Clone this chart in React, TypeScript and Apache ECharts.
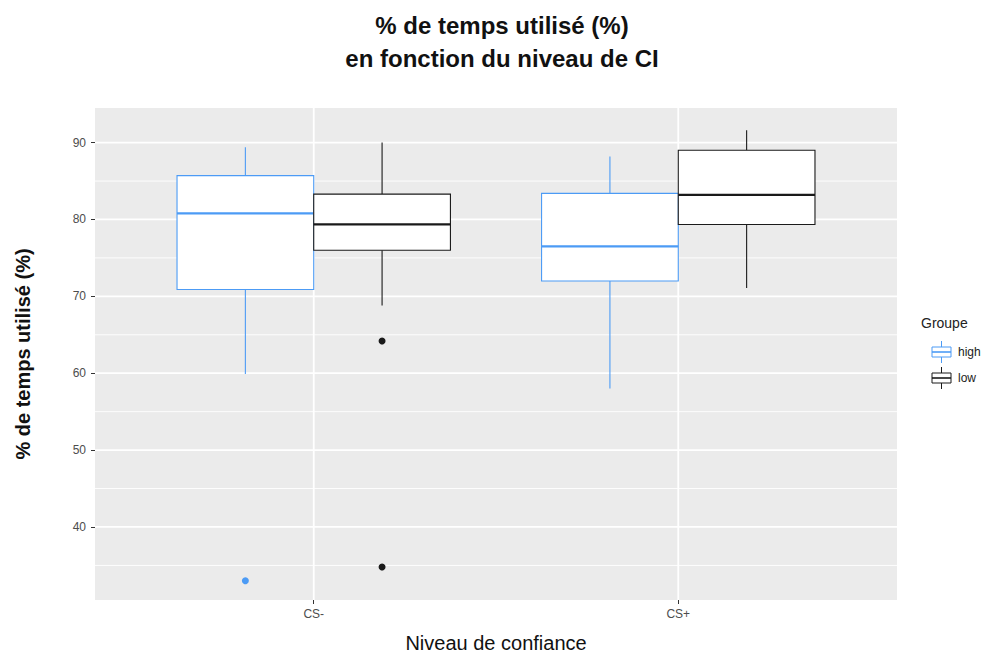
import React, { useEffect, useRef } from "react";
import * as echarts from "echarts";

const categories = ["CS-", "CS+"];
const groups = ["high", "low"];
const groupColors = ["#4C9BF5", "#1A1A1A"];
// [min, Q1, median, Q3, max] for each category
const highStats = [
  [59.9, 70.9, 80.8, 85.7, 89.4],
  [58.0, 72.0, 76.5, 83.4, 88.2],
];
const lowStats = [
  [68.8, 76.0, 79.35, 83.3, 90.0],
  [71.1, 79.35, 83.2, 89.0, 91.6],
];
// [category index, value]
const highOutliers = [[0, 33.0]];
const lowOutliers = [
  [0, 64.2],
  [0, 34.8],
];
const yTicks = [40, 50, 60, 70, 80, 90];
const yMinor = [35, 45, 55, 65, 75, 85];

const X_MIN = 0.4;
const X_MAX = 2.6;
const Y_MIN = 30.5;
const Y_MAX = 94.5;
const DODGE = 0.1875;
const HALF = 0.1875;

const FONT = "Liberation Sans, Arial, Helvetica, sans-serif";

function boxSeries(name: string, stats: number[][], offset: number, color: string) {
  return {
    name,
    type: "custom",
    z: 5,
    silent: true,
    data: stats.map((s, i) => [i + 1 + offset, ...s]),
    encode: { x: 0, y: [1, 2, 3, 4, 5] },
    renderItem: (params: any, api: any) => {
      const x = api.value(0);
      const mn = api.value(1);
      const q1 = api.value(2);
      const md = api.value(3);
      const q3 = api.value(4);
      const mx = api.value(5);
      const tl = api.coord([x - HALF, q3]);
      const br = api.coord([x + HALF, q1]);
      const cTop = api.coord([x, mx]);
      const cBot = api.coord([x, mn]);
      const mL = api.coord([x - HALF, md]);
      const mR = api.coord([x + HALF, md]);
      return {
        type: "group",
        children: [
          {
            type: "line",
            shape: { x1: cTop[0], y1: cTop[1], x2: cTop[0], y2: tl[1] },
            style: { stroke: color, lineWidth: 1.1 },
          },
          {
            type: "line",
            shape: { x1: cBot[0], y1: cBot[1], x2: cBot[0], y2: br[1] },
            style: { stroke: color, lineWidth: 1.1 },
          },
          {
            type: "rect",
            shape: { x: tl[0], y: tl[1], width: br[0] - tl[0], height: br[1] - tl[1] },
            style: { fill: "#FFFFFF", stroke: color, lineWidth: 1.1 },
          },
          {
            type: "line",
            shape: { x1: mL[0], y1: mL[1], x2: mR[0], y2: mR[1] },
            style: { stroke: color, lineWidth: 2.2 },
          },
        ],
      };
    },
  };
}

function outlierSeries(name: string, pts: number[][], offset: number, color: string) {
  return {
    name: name + "-outliers",
    type: "scatter",
    z: 6,
    silent: true,
    symbol: "circle",
    symbolSize: 7,
    itemStyle: { color, opacity: 1 },
    data: pts.map((p) => [p[0] + 1 + offset, p[1]]),
  };
}

const gridSeries = {
  type: "custom",
  z: 1,
  silent: true,
  data: [
    ...yMinor.map((v) => [0, v, 0]),
    ...yTicks.map((v) => [0, v, 1]),
    ...categories.map((_, i) => [1, i + 1, 1]),
  ],
  encode: { x: -1, y: -1 },
  renderItem: (params: any, api: any) => {
    const orient = api.value(0);
    const v = api.value(1);
    const major = api.value(2) === 1;
    let p1, p2;
    if (orient === 0) {
      p1 = api.coord([X_MIN, v]);
      p2 = api.coord([X_MAX, v]);
    } else {
      p1 = api.coord([v, Y_MIN]);
      p2 = api.coord([v, Y_MAX]);
    }
    return {
      type: "line",
      shape: { x1: p1[0], y1: p1[1], x2: p2[0], y2: p2[1] },
      style: { stroke: "#FFFFFF", lineWidth: major ? 1.8 : 0.9 },
    };
  },
};

function legendKey(y: number, color: string) {
  const x0 = 932;
  const w = 19;
  const h = 10;
  const cx = x0 + w / 2;
  return [
    { type: "line", shape: { x1: cx, y1: y - 11, x2: cx, y2: y + 11 }, style: { stroke: color, lineWidth: 1 } },
    { type: "rect", shape: { x: x0, y: y - h / 2, width: w, height: h }, style: { fill: "#FFFFFF", stroke: color, lineWidth: 1 } },
    { type: "line", shape: { x1: x0, y1: y, x2: x0 + w, y2: y }, style: { stroke: color, lineWidth: 1.6 } },
  ];
}

export default function App() {
  const ref = useRef<HTMLDivElement>(null);
  useEffect(() => {
    if (!ref.current) return;
    const chart = echarts.init(ref.current, null, { renderer: "svg" });
    const legendYs = [352, 378];
    chart.setOption({
      animation: false,
      backgroundColor: "#FFFFFF",
      textStyle: { fontFamily: FONT },
      title: {
        text: "% de temps utilisé (%)\nen fonction du niveau de CI",
        left: 497,
        textAlign: "center",
        top: 4,
        textStyle: {
          fontFamily: FONT,
          fontSize: 24,
          fontWeight: "bold",
          color: "#111111",
          lineHeight: 33,
        },
      },
      grid: {
        left: 95,
        right: 97,
        top: 108,
        bottom: 57,
        show: true,
        backgroundColor: "#EBEBEB",
        borderWidth: 0,
        containLabel: false,
        outerBoundsMode: "none",
      },
      xAxis: {
        type: "value",
        min: X_MIN,
        max: X_MAX,
        name: "Niveau de confiance",
        nameLocation: "middle",
        nameGap: 33,
        nameTextStyle: { fontFamily: FONT, fontSize: 20, color: "#111111" },
        axisLine: { show: false },
        splitLine: { show: false },
        axisTick: {
          show: true,
          customValues: [1, 2],
          length: 4,
          lineStyle: { color: "#333333", width: 1 },
        },
        axisLabel: {
          customValues: [1, 2],
          formatter: (v: number) => categories[Math.round(v) - 1] ?? "",
          color: "#4D4D4D",
          fontSize: 12,
          margin: 8,
          fontFamily: FONT,
        },
      },
      yAxis: {
        type: "value",
        min: Y_MIN,
        max: Y_MAX,
        name: "% de temps utilisé (%)",
        nameLocation: "middle",
        nameGap: 62,
        nameRotate: 90,
        nameTextStyle: { fontFamily: FONT, fontSize: 20, fontWeight: "bold", color: "#111111" },
        axisLine: { show: false },
        splitLine: { show: false },
        axisTick: {
          show: true,
          customValues: yTicks,
          length: 4,
          lineStyle: { color: "#333333", width: 1 },
        },
        axisLabel: {
          customValues: yTicks,
          color: "#4D4D4D",
          fontSize: 12,
          margin: 9,
          fontFamily: FONT,
        },
      },
      graphic: [
        {
          type: "text",
          left: 921,
          top: 316,
          style: { text: "Groupe", fontSize: 14, fill: "#222222", fontFamily: FONT },
        },
        ...groups.flatMap((g, i) => [
          ...legendKey(legendYs[i], groupColors[i]),
          {
            type: "text",
            x: 958,
            y: legendYs[i],
            style: {
              text: g,
              fontSize: 12,
              fill: "#222222",
              fontFamily: FONT,
              verticalAlign: "middle",
            },
          },
        ]),
      ],
      series: [
        gridSeries,
        boxSeries(groups[0], highStats, -DODGE, groupColors[0]),
        boxSeries(groups[1], lowStats, DODGE, groupColors[1]),
        outlierSeries(groups[0], highOutliers, -DODGE, groupColors[0]),
        outlierSeries(groups[1], lowOutliers, DODGE, groupColors[1]),
      ],
    });
    return () => chart.dispose();
  }, []);
  return (
    <div
      ref={ref}
      style={{ position: "fixed", top: 0, left: 0, width: 994, height: 657 }}
    />
  );
}
